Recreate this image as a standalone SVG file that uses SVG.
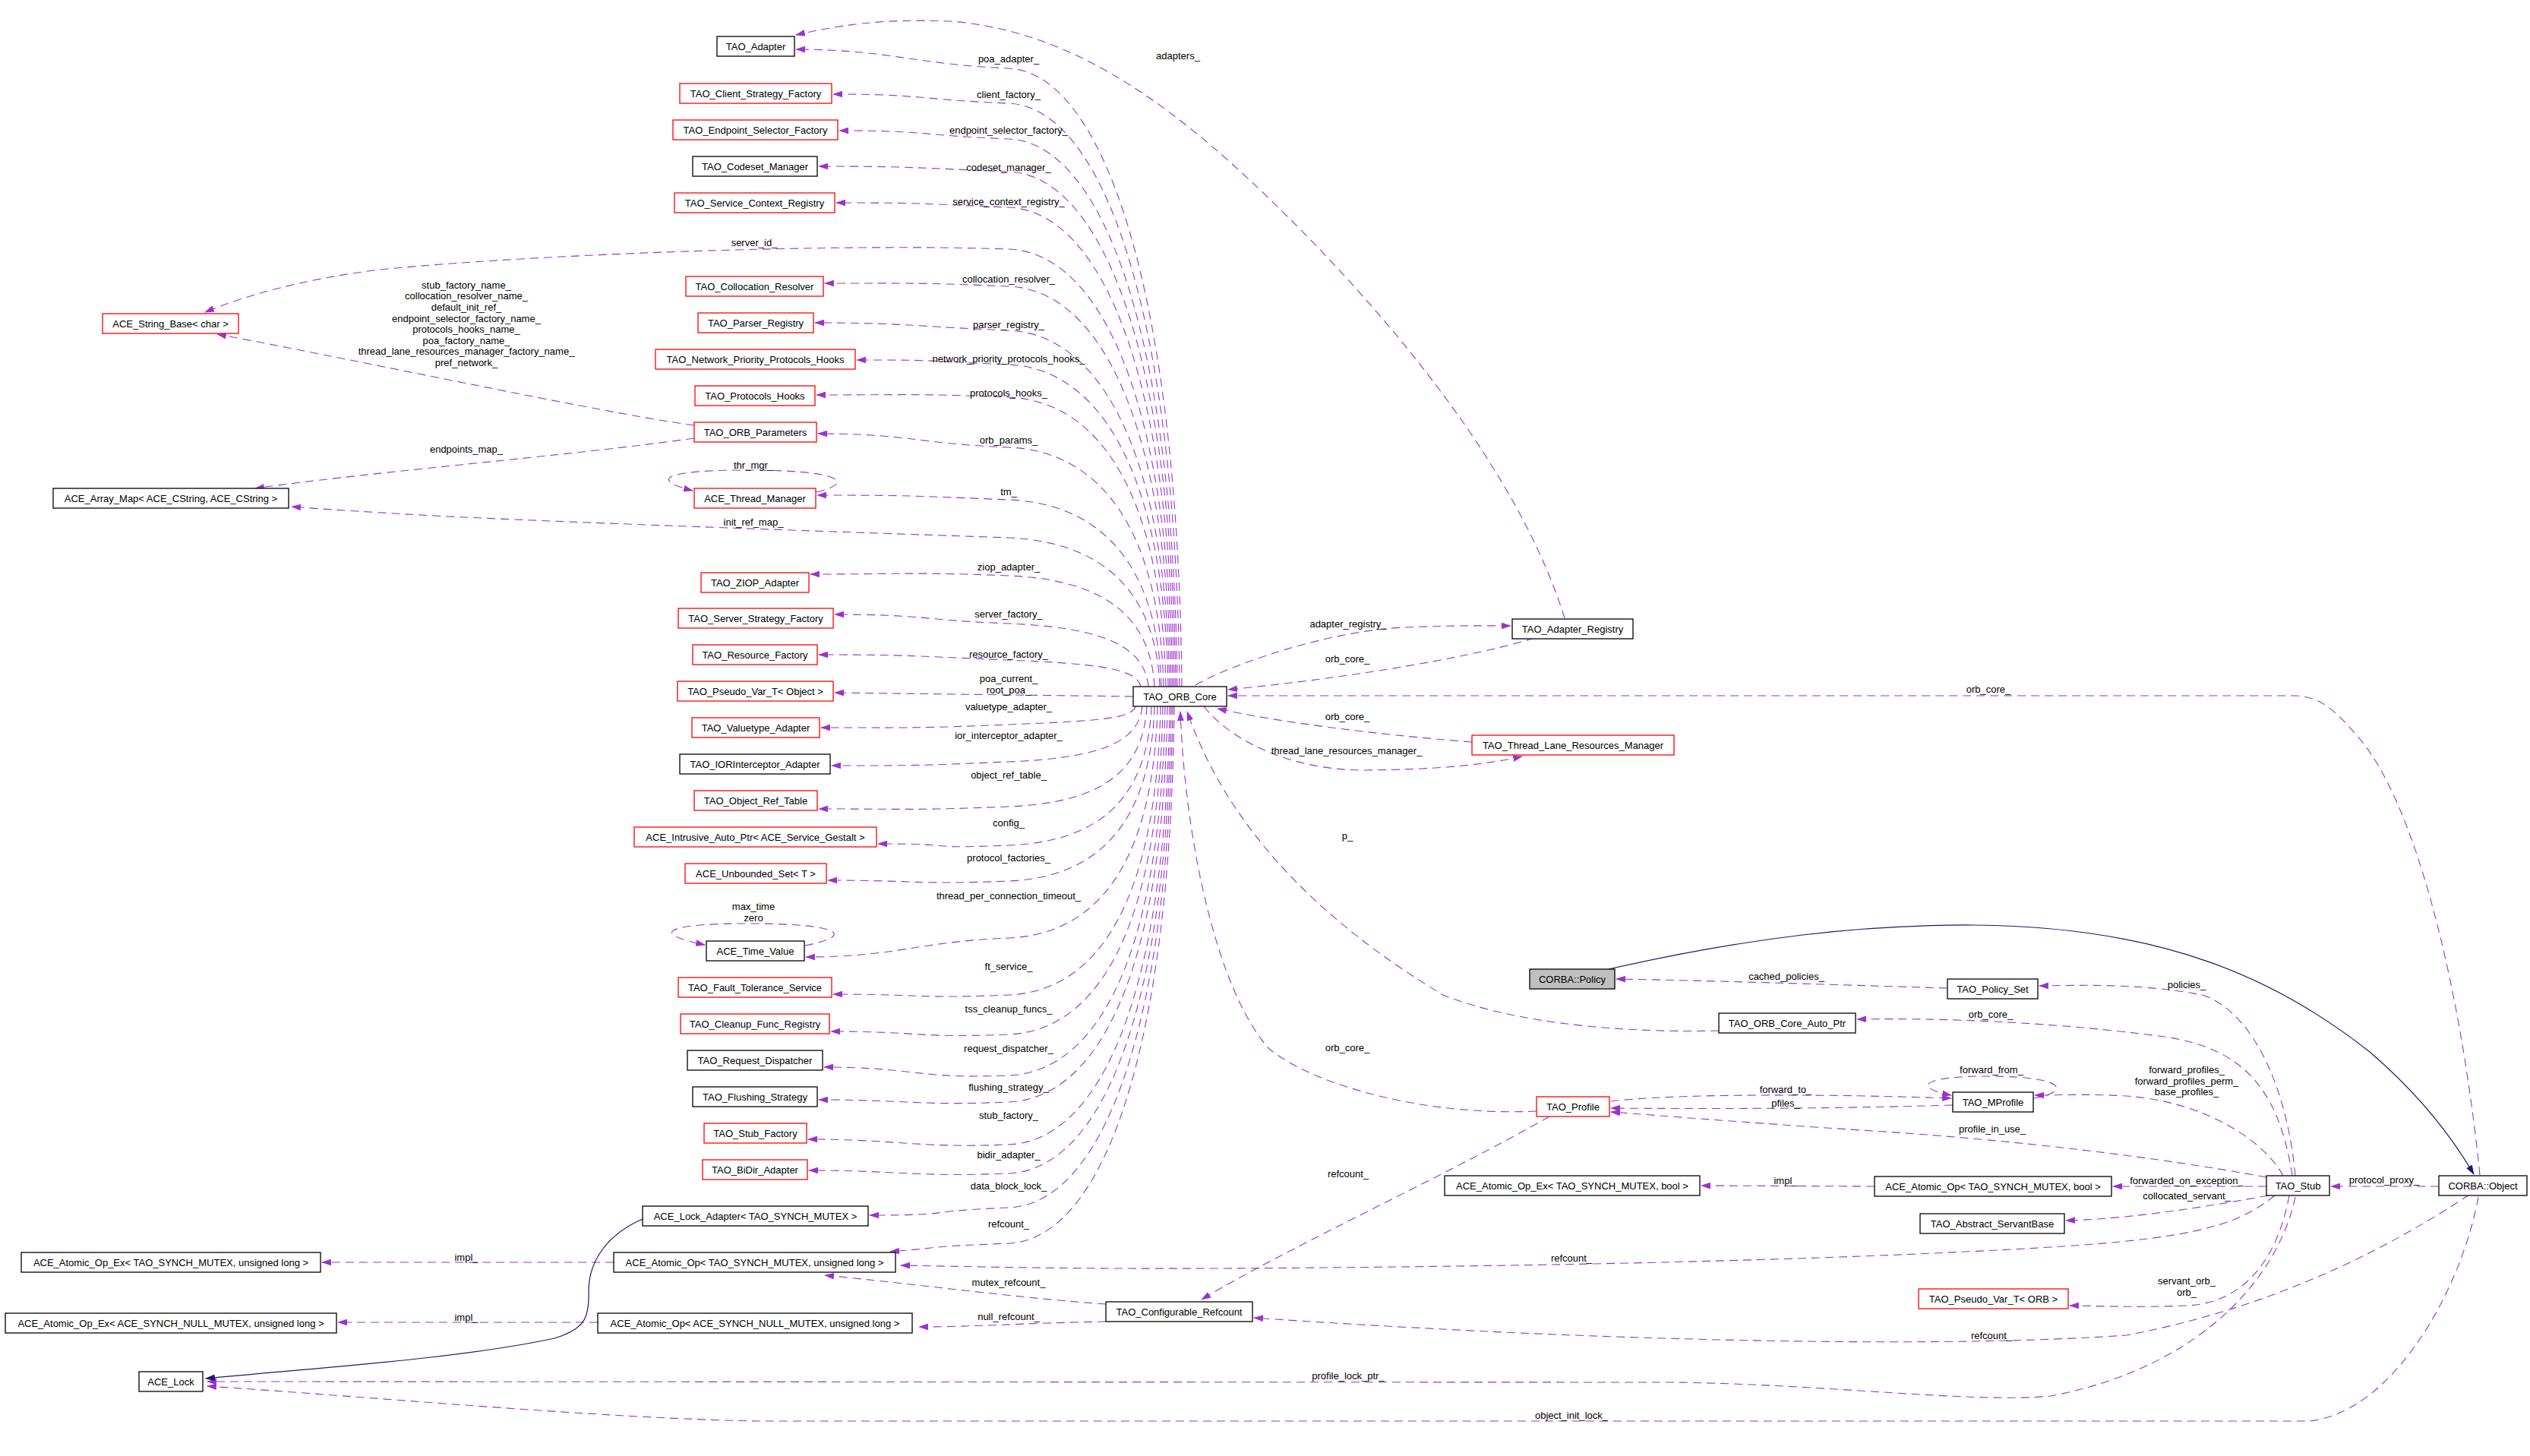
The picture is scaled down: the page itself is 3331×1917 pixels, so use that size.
<svg xmlns="http://www.w3.org/2000/svg" width="3331" height="1917" viewBox="0 0 3331 1917">
<defs>
<style>
.n rect{fill:#fff;stroke:#000;stroke-width:1.3}
.n.r rect{stroke:#f00}
.n.g rect{fill:#bfbfbf}
text{font-family:"Liberation Sans",Arial,sans-serif;font-size:13px;fill:#000;text-anchor:middle}
.e{fill:none;stroke:#9a32cd;stroke-width:1.1;stroke-dasharray:11,7;marker-end:url(#a)}
.i{fill:none;stroke:#191970;stroke-width:1.2;marker-end:url(#b)}
</style>
<marker id="a" viewBox="0 0 12 8" refX="11" refY="4" markerWidth="13" markerHeight="9" orient="auto" markerUnits="userSpaceOnUse"><path d="M0,0 L12,4 L0,8 z" fill="#9a32cd"/></marker>
<marker id="b" viewBox="0 0 12 8" refX="11" refY="4" markerWidth="13" markerHeight="9" orient="auto" markerUnits="userSpaceOnUse"><path d="M0,0 L12,4 L0,8 z" fill="#191970"/></marker>
</defs>
<rect width="3331" height="1917" fill="#fff"/>
<g id="connectors">
<path class="e" d="M2060,814 C2000,620 1830,420 1700,290 C1560,150 1420,40 1250,28 C1160,24 1100,34 1048,46"/>
<path class="e" d="M1556,904 C1551,375 1450,95 1328,90 S1168,65 1048,65"/>
<path class="e" d="M1553,904 C1548,405 1450,141 1328,136 S1217,124 1097,124"/>
<path class="e" d="M1550,904 C1545,435 1450,188 1328,183 S1225,172 1105,172"/>
<path class="e" d="M1548,904 C1543,463 1450,231 1328,226 S1198,219 1078,219"/>
<path class="e" d="M1546,904 C1541,494 1450,278 1328,273 S1221,267 1101,267"/>
<path class="e" d="M1544,904 C1539,530 1450,333 1328,328 C1100,320 700,335 500,355 C400,367 320,390 270,411"/>
<path class="e" d="M1542,904 C1537,561 1450,382 1328,377 S1206,373 1086,373"/>
<path class="e" d="M1540,904 C1535,599 1450,440 1328,435 S1193,425 1073,425"/>
<path class="e" d="M1538,904 C1533,628 1450,485 1328,480 S1248,474 1128,474"/>
<path class="e" d="M1535,904 C1530,656 1450,528 1328,523 S1195,520 1075,520"/>
<path class="e" d="M1532,904 C1527,699 1450,594 1328,589 S1197,571 1077,571"/>
<path class="e" d="M914,560 C800,545 500,480 286,440"/>
<path class="e" d="M914,577 C750,600 500,620 336,643"/>
<path class="e" d="M1075,648 C1125,636 1110,620 995,619 C880,618 850,630 912,646"/>
<path class="e" d="M1529,904 C1524,744 1450,663 1328,658 S1196,652 1076,652"/>
<path class="e" d="M1527,904 C1522,778 1450,713 1328,708 C1100,700 800,690 590,680 C480,674 420,670 384,667"/>
<path class="e" d="M1520,904 C1515,809 1450,763 1328,758 S1187,756 1067,756"/>
<path class="e" d="M1512,904 C1507,850 1450,826 1328,821 S1219,809 1099,809"/>
<path class="e" d="M1502,904 C1497,881 1450,874 1328,869 S1198,862 1078,862"/>
<path class="e" d="M1492,917 L1099,912"/>
<path class="e" d="M1495,930 C1490,946 1450,949 1328,954 S1201,958 1081,958"/>
<path class="e" d="M1504,930 C1499,977 1450,998 1328,1003 S1215,1008 1095,1008"/>
<path class="e" d="M1510,930 C1505,1016 1450,1057 1328,1062 S1198,1065 1078,1065"/>
<path class="e" d="M1516,930 C1511,1049 1450,1108 1328,1113 S1276,1111 1156,1111"/>
<path class="e" d="M1520,930 C1515,1079 1450,1155 1328,1160 S1210,1159 1090,1159"/>
<path class="e" d="M1060,1245 C1125,1232 1110,1217 995,1216 C880,1215 850,1228 928,1244"/>
<path class="e" d="M1524,930 C1519,1128 1450,1230 1328,1235 S1181,1260 1061,1260"/>
<path class="e" d="M1528,930 C1523,1177 1450,1305 1328,1310 S1217,1309 1097,1309"/>
<path class="e" d="M1531,930 C1526,1211 1450,1357 1328,1362 S1214,1358 1094,1358"/>
<path class="e" d="M1534,930 C1529,1246 1450,1411 1328,1416 S1205,1405 1085,1405"/>
<path class="e" d="M1537,930 C1532,1269 1450,1446 1328,1451 S1198,1448 1078,1448"/>
<path class="e" d="M1540,930 C1535,1305 1450,1502 1328,1507 S1184,1500 1064,1500"/>
<path class="e" d="M1542,930 C1537,1330 1450,1540 1328,1545 S1185,1541 1065,1541"/>
<path class="e" d="M1544,930 C1539,1359 1450,1585 1328,1590 S1265,1600 1145,1600"/>
<path class="e" d="M1546,930 C1541,1390 1450,1632 1328,1637 S1250,1642 1172,1648"/>
<path class="e" d="M1574,902 C1620,875 1750,830 1850,826 C1920,823 1960,824 1989,824"/>
<path class="e" d="M2020,840 C1950,862 1800,890 1617,908"/>
<path class="e" d="M3265,1547 C3240,1300 3180,1050 3100,965 C3070,930 3050,916 3020,916 L1617,916"/>
<path class="e" d="M1938,977 C1800,966 1680,950 1603,933"/>
<path class="e" d="M1585,930 C1620,975 1700,1015 1800,1014 C1900,1013 1960,1006 2004,996"/>
<path class="e" d="M2263,1357 C2150,1360 2000,1350 1900,1310 C1750,1220 1620,1100 1563,937"/>
<path class="e" d="M2023,1463 C1880,1470 1730,1430 1670,1380 C1600,1300 1560,1100 1554,937"/>
<path class="e" d="M2040,1470 C1900,1550 1700,1640 1582,1711"/>
<path class="e" d="M2564,1301 C2400,1296 2250,1291 2128,1289"/>
<path class="e" d="M3022,1548 C3010,1420 2960,1330 2900,1310 C2820,1295 2750,1297 2685,1298"/>
<path class="e" d="M3018,1548 C3000,1430 2950,1380 2850,1365 C2700,1345 2550,1340 2445,1342"/>
<path class="e" d="M3006,1548 C2980,1500 2900,1450 2800,1443 C2750,1440 2710,1442 2679,1442"/>
<path class="e" d="M2677,1446 C2720,1440 2730,1418 2622,1417 C2540,1416 2510,1430 2569,1442"/>
<path class="e" d="M2121,1450 C2200,1440 2400,1440 2569,1446"/>
<path class="e" d="M2571,1455 C2400,1460 2250,1460 2121,1459"/>
<path class="e" d="M2984,1550 C2850,1525 2650,1500 2450,1488 C2300,1478 2200,1470 2121,1464"/>
<path class="e" d="M2984,1562 L2782,1562"/>
<path class="e" d="M2986,1574 C2900,1590 2800,1605 2720,1607"/>
<path class="e" d="M2468,1562 L2240,1561"/>
<path class="e" d="M3211,1562 L3069,1562"/>
<path class="e" d="M3014,1574 C3000,1650 2960,1715 2880,1719 C2800,1722 2760,1719 2725,1719"/>
<path class="e" d="M2995,1574 C2950,1610 2900,1630 2700,1642 C2400,1660 2000,1668 1600,1670 C1400,1671 1250,1667 1186,1666"/>
<path class="e" d="M3251,1573 C3150,1640 3000,1720 2800,1758 C2600,1772 2300,1768 2000,1755 C1850,1748 1720,1740 1651,1735"/>
<path class="e" d="M3022,1576 C3000,1680 2900,1800 2700,1838 C2600,1848 2400,1822 2200,1820 L273,1819"/>
<path class="e" d="M3263,1576 C3240,1700 3150,1860 3040,1871 L1000,1871 C800,1868 500,1840 273,1825"/>
<path class="e" d="M1456,1717 C1350,1710 1200,1690 1086,1679"/>
<path class="e" d="M1456,1740 C1350,1742 1280,1747 1210,1747"/>
<path class="e" d="M808,1662 L424,1662"/>
<path class="e" d="M787,1741 L445,1741"/>
<path class="i" d="M846,1605 C800,1625 775,1660 775,1700 C776,1735 770,1750 730,1762 C600,1790 400,1802 271,1815"/>
<path class="i" d="M2118,1276 C2300,1235 2450,1217 2600,1218 C2850,1220 3000,1290 3120,1385 C3190,1445 3230,1500 3257,1546"/>
</g>
<g id="labels">
<text x="1551" y="78">adapters_</text>
<text x="1328" y="82">poa_adapter_</text>
<text x="1328" y="129">client_factory_</text>
<text x="1328" y="176">endpoint_selector_factory_</text>
<text x="1328" y="225">codeset_manager_</text>
<text x="1328" y="270">service_context_registry_</text>
<text x="993" y="324">server_id_</text>
<text x="1328" y="372">collocation_resolver_</text>
<text x="1328" y="432">parser_registry_</text>
<text x="1328" y="477">network_priority_protocols_hooks_</text>
<text x="1328" y="522">protocols_hooks_</text>
<text x="1328" y="584">orb_params_</text>
<text x="614" y="380">stub_factory_name_</text>
<text x="614" y="394">collocation_resolver_name_</text>
<text x="614" y="409">default_init_ref_</text>
<text x="614" y="424">endpoint_selector_factory_name_</text>
<text x="614" y="438">protocols_hooks_name_</text>
<text x="614" y="453">poa_factory_name_</text>
<text x="614" y="467">thread_lane_resources_manager_factory_name_</text>
<text x="614" y="482">pref_network_</text>
<text x="614" y="596">endpoints_map_</text>
<text x="992" y="617">thr_mgr_</text>
<text x="1328" y="652">tm_</text>
<text x="992" y="692">init_ref_map_</text>
<text x="1328" y="751">ziop_adapter_</text>
<text x="1328" y="813">server_factory_</text>
<text x="1328" y="866">resource_factory_</text>
<text x="1328" y="898">poa_current_</text>
<text x="1328" y="913">root_poa_</text>
<text x="1328" y="935">valuetype_adapter_</text>
<text x="1328" y="973">ior_interceptor_adapter_</text>
<text x="1328" y="1025">object_ref_table_</text>
<text x="1328" y="1088">config_</text>
<text x="1328" y="1134">protocol_factories_</text>
<text x="1328" y="1184">thread_per_connection_timeout_</text>
<text x="992" y="1198">max_time</text>
<text x="992" y="1213">zero</text>
<text x="1328" y="1277">ft_service_</text>
<text x="1328" y="1333">tss_cleanup_funcs_</text>
<text x="1328" y="1385">request_dispatcher_</text>
<text x="1328" y="1436">flushing_strategy_</text>
<text x="1328" y="1473">stub_factory_</text>
<text x="1328" y="1525">bidir_adapter_</text>
<text x="1328" y="1566">data_block_lock_</text>
<text x="1328" y="1616">refcount_</text>
<text x="1328" y="1693">mutex_refcount_</text>
<text x="1328" y="1738">null_refcount_</text>
<text x="614" y="1660">impl_</text>
<text x="614" y="1739">impl_</text>
<text x="1775" y="826">adapter_registry_</text>
<text x="1774" y="872">orb_core_</text>
<text x="1774" y="948">orb_core_</text>
<text x="1773" y="993">thread_lane_resources_manager_</text>
<text x="1774" y="1105">p_</text>
<text x="1774" y="1384">orb_core_</text>
<text x="1775" y="1550">refcount_</text>
<text x="1775" y="1816">profile_lock_ptr_</text>
<text x="2069" y="1661">refcount_</text>
<text x="2069" y="1868">object_init_lock_</text>
<text x="2618" y="912">orb_core_</text>
<text x="2352" y="1290">cached_policies_</text>
<text x="2621" y="1340">orb_core_</text>
<text x="2879" y="1301">policies_</text>
<text x="2622" y="1413">forward_from_</text>
<text x="2351" y="1439">forward_to_</text>
<text x="2351" y="1457">pfiles_</text>
<text x="2879" y="1413">forward_profiles_</text>
<text x="2879" y="1428">forward_profiles_perm_</text>
<text x="2879" y="1442">base_profiles_</text>
<text x="2623" y="1491">profile_in_use_</text>
<text x="2351" y="1559">impl_</text>
<text x="2879" y="1559">forwarded_on_exception_</text>
<text x="2879" y="1579">collocated_servant_</text>
<text x="3139" y="1558">protocol_proxy_</text>
<text x="2879" y="1691">servant_orb_</text>
<text x="2879" y="1706">orb_</text>
<text x="2622" y="1763">refcount_</text>
</g>
<g id="n1" class="n"><rect x="944" y="48" width="102" height="26"/><text x="995" y="65.5">TAO_Adapter</text></g>
<g id="n2" class="n r"><rect x="895" y="110" width="200" height="26"/><text x="995" y="127.5">TAO_Client_Strategy_Factory</text></g>
<g id="n3" class="n r"><rect x="886" y="158" width="217" height="26"/><text x="994.5" y="175.5">TAO_Endpoint_Selector_Factory</text></g>
<g id="n4" class="n"><rect x="912" y="206" width="164" height="26"/><text x="994" y="223.5">TAO_Codeset_Manager</text></g>
<g id="n5" class="n r"><rect x="888" y="254" width="211" height="26"/><text x="993.5" y="271.5">TAO_Service_Context_Registry</text></g>
<g id="n6" class="n r"><rect x="903" y="364" width="181" height="26"/><text x="993.5" y="381.5">TAO_Collocation_Resolver</text></g>
<g id="n7" class="n r"><rect x="919" y="412" width="152" height="26"/><text x="995" y="429.5">TAO_Parser_Registry</text></g>
<g id="n8" class="n r"><rect x="863" y="460" width="263" height="26"/><text x="994.5" y="477.5">TAO_Network_Priority_Protocols_Hooks</text></g>
<g id="n9" class="n r"><rect x="915" y="508" width="158" height="26"/><text x="994" y="525.5">TAO_Protocols_Hooks</text></g>
<g id="n10" class="n r"><rect x="914" y="556" width="161" height="26"/><text x="994.5" y="573.5">TAO_ORB_Parameters</text></g>
<g id="n11" class="n r"><rect x="914" y="643" width="160" height="26"/><text x="994" y="660.5">ACE_Thread_Manager</text></g>
<g id="n12" class="n r"><rect x="923" y="754" width="142" height="26"/><text x="994" y="771.5">TAO_ZIOP_Adapter</text></g>
<g id="n13" class="n r"><rect x="893" y="801" width="204" height="26"/><text x="995" y="818.5">TAO_Server_Strategy_Factory</text></g>
<g id="n14" class="n r"><rect x="912" y="849" width="164" height="26"/><text x="994" y="866.5">TAO_Resource_Factory</text></g>
<g id="n15" class="n r"><rect x="892" y="897" width="205" height="26"/><text x="994.5" y="914.5">TAO_Pseudo_Var_T&lt; Object &gt;</text></g>
<g id="n16" class="n r"><rect x="911" y="945" width="168" height="26"/><text x="995" y="962.5">TAO_Valuetype_Adapter</text></g>
<g id="n17" class="n"><rect x="895" y="993" width="198" height="26"/><text x="994" y="1010.5">TAO_IORInterceptor_Adapter</text></g>
<g id="n18" class="n r"><rect x="914" y="1041" width="162" height="26"/><text x="995" y="1058.5">TAO_Object_Ref_Table</text></g>
<g id="n19" class="n r"><rect x="835" y="1089" width="319" height="26"/><text x="994.5" y="1106.5">ACE_Intrusive_Auto_Ptr&lt; ACE_Service_Gestalt &gt;</text></g>
<g id="n20" class="n r"><rect x="902" y="1137" width="186" height="26"/><text x="995" y="1154.5">ACE_Unbounded_Set&lt; T &gt;</text></g>
<g id="n21" class="n"><rect x="930" y="1239" width="129" height="26"/><text x="994.5" y="1256.5">ACE_Time_Value</text></g>
<g id="n22" class="n r"><rect x="893" y="1287" width="202" height="26"/><text x="994" y="1304.5">TAO_Fault_Tolerance_Service</text></g>
<g id="n23" class="n r"><rect x="896" y="1335" width="196" height="26"/><text x="994" y="1352.5">TAO_Cleanup_Func_Registry</text></g>
<g id="n24" class="n"><rect x="905" y="1383" width="178" height="26"/><text x="994" y="1400.5">TAO_Request_Dispatcher</text></g>
<g id="n25" class="n"><rect x="912" y="1431" width="164" height="26"/><text x="994" y="1448.5">TAO_Flushing_Strategy</text></g>
<g id="n26" class="n r"><rect x="927" y="1479" width="135" height="26"/><text x="994.5" y="1496.5">TAO_Stub_Factory</text></g>
<g id="n27" class="n r"><rect x="925" y="1527" width="138" height="26"/><text x="994" y="1544.5">TAO_BiDir_Adapter</text></g>
<g id="n28" class="n"><rect x="846" y="1588" width="297" height="26"/><text x="994.5" y="1605.5">ACE_Lock_Adapter&lt; TAO_SYNCH_MUTEX &gt;</text></g>
<g id="n29" class="n"><rect x="808" y="1649" width="371" height="26"/><text x="993.5" y="1666.5">ACE_Atomic_Op&lt; TAO_SYNCH_MUTEX, unsigned long &gt;</text></g>
<g id="n30" class="n"><rect x="787" y="1729" width="414" height="26"/><text x="994" y="1746.5">ACE_Atomic_Op&lt; ACE_SYNCH_NULL_MUTEX, unsigned long &gt;</text></g>
<g id="n31" class="n r"><rect x="135" y="413" width="179" height="26"/><text x="224.5" y="430.5">ACE_String_Base&lt; char &gt;</text></g>
<g id="n32" class="n"><rect x="70" y="643" width="310" height="26"/><text x="225" y="660.5">ACE_Array_Map&lt; ACE_CString, ACE_CString &gt;</text></g>
<g id="n33" class="n"><rect x="28" y="1649" width="394" height="26"/><text x="225" y="1666.5">ACE_Atomic_Op_Ex&lt; TAO_SYNCH_MUTEX, unsigned long &gt;</text></g>
<g id="n34" class="n"><rect x="7" y="1729" width="436" height="26"/><text x="225" y="1746.5">ACE_Atomic_Op_Ex&lt; ACE_SYNCH_NULL_MUTEX, unsigned long &gt;</text></g>
<g id="n35" class="n"><rect x="183" y="1806" width="84" height="26"/><text x="225" y="1823.5">ACE_Lock</text></g>
<g id="n36" class="n"><rect x="1492" y="904" width="123" height="26"/><text x="1553.5" y="921.5">TAO_ORB_Core</text></g>
<g id="n37" class="n"><rect x="1991" y="815" width="159" height="26"/><text x="2070.5" y="832.5">TAO_Adapter_Registry</text></g>
<g id="n38" class="n r"><rect x="1938" y="968" width="266" height="26"/><text x="2071" y="985.5">TAO_Thread_Lane_Resources_Manager</text></g>
<g id="n39" class="n g"><rect x="2014" y="1276" width="112" height="26"/><text x="2070" y="1293.5">CORBA::Policy</text></g>
<g id="n40" class="n"><rect x="2564" y="1289" width="119" height="26"/><text x="2623.5" y="1306.5">TAO_Policy_Set</text></g>
<g id="n41" class="n"><rect x="2263" y="1334" width="180" height="26"/><text x="2353" y="1351.5">TAO_ORB_Core_Auto_Ptr</text></g>
<g id="n42" class="n r"><rect x="2023" y="1444" width="96" height="26"/><text x="2071" y="1461.5">TAO_Profile</text></g>
<g id="n43" class="n"><rect x="2571" y="1438" width="106" height="26"/><text x="2624" y="1455.5">TAO_MProfile</text></g>
<g id="n44" class="n"><rect x="1902" y="1548" width="336" height="26"/><text x="2070" y="1565.5">ACE_Atomic_Op_Ex&lt; TAO_SYNCH_MUTEX, bool &gt;</text></g>
<g id="n45" class="n"><rect x="2468" y="1549" width="312" height="26"/><text x="2624" y="1566.5">ACE_Atomic_Op&lt; TAO_SYNCH_MUTEX, bool &gt;</text></g>
<g id="n46" class="n"><rect x="2528" y="1598" width="190" height="26"/><text x="2623" y="1615.5">TAO_Abstract_ServantBase</text></g>
<g id="n47" class="n"><rect x="2984" y="1548" width="83" height="26"/><text x="3025.5" y="1565.5">TAO_Stub</text></g>
<g id="n48" class="n"><rect x="3211" y="1548" width="116" height="26"/><text x="3269" y="1565.5">CORBA::Object</text></g>
<g id="n49" class="n r"><rect x="2526" y="1697" width="197" height="26"/><text x="2624.5" y="1714.5">TAO_Pseudo_Var_T&lt; ORB &gt;</text></g>
<g id="n50" class="n"><rect x="1456" y="1714" width="193" height="26"/><text x="1552.5" y="1731.5">TAO_Configurable_Refcount</text></g>
</svg>
